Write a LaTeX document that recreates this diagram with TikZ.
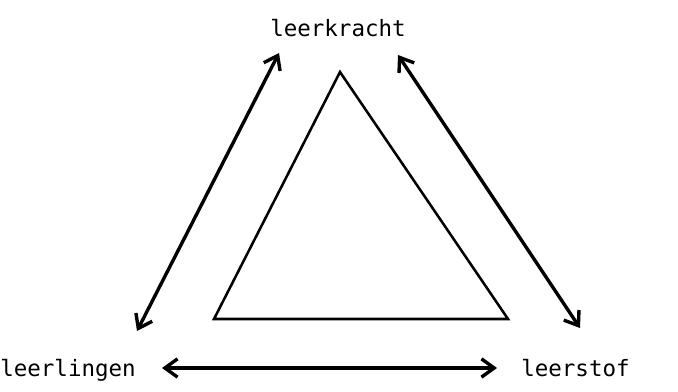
\documentclass[tikz,border=0pt]{standalone}
\usepackage{fontspec}
\setmonofont{DejaVu Sans Mono}
\usetikzlibrary{arrows.meta,positioning}

\begin{document}
\begin{tikzpicture}[x=0.025cm,y=-0.025cm,
    word/.style={font=\ttfamily\fontsize{16}{18}\selectfont,inner sep=0pt},
    link/.style={{Straight Barb[length=9pt,width=13pt]}-{Straight Barb[length=9pt,width=13pt]},line width=2.4pt},
    side/.style={line width=1.8pt,line join=miter}]
  \useasboundingbox (0,0) rectangle (678,392);
  \node[word] (kracht) at (338,28) {leerkracht};
  \node[word,anchor=base west] (lingen) at (0,377) {leerlingen};
  \node[word,anchor=base west] (stof) at (521,377) {leerstof};
  % driehoek
  \coordinate (top) at (340,72);
  \coordinate (links) at (214,319);
  \coordinate (rechts) at (508,319);
  \draw[side] (top) -- (links) -- (rechts) -- cycle;
  % pijlen
  \coordinate (a1) at (279,53);
  \coordinate (a2) at (137,331);
  \coordinate (b1) at (398,55);
  \coordinate (b2) at (580,328);
  \coordinate (c1) at (162,368);
  \coordinate (c2) at (497,368);
  \path[link]
    (a1) edge (a2)
    (b1) edge (b2)
    (c1) edge (c2);
\end{tikzpicture}
\end{document}
